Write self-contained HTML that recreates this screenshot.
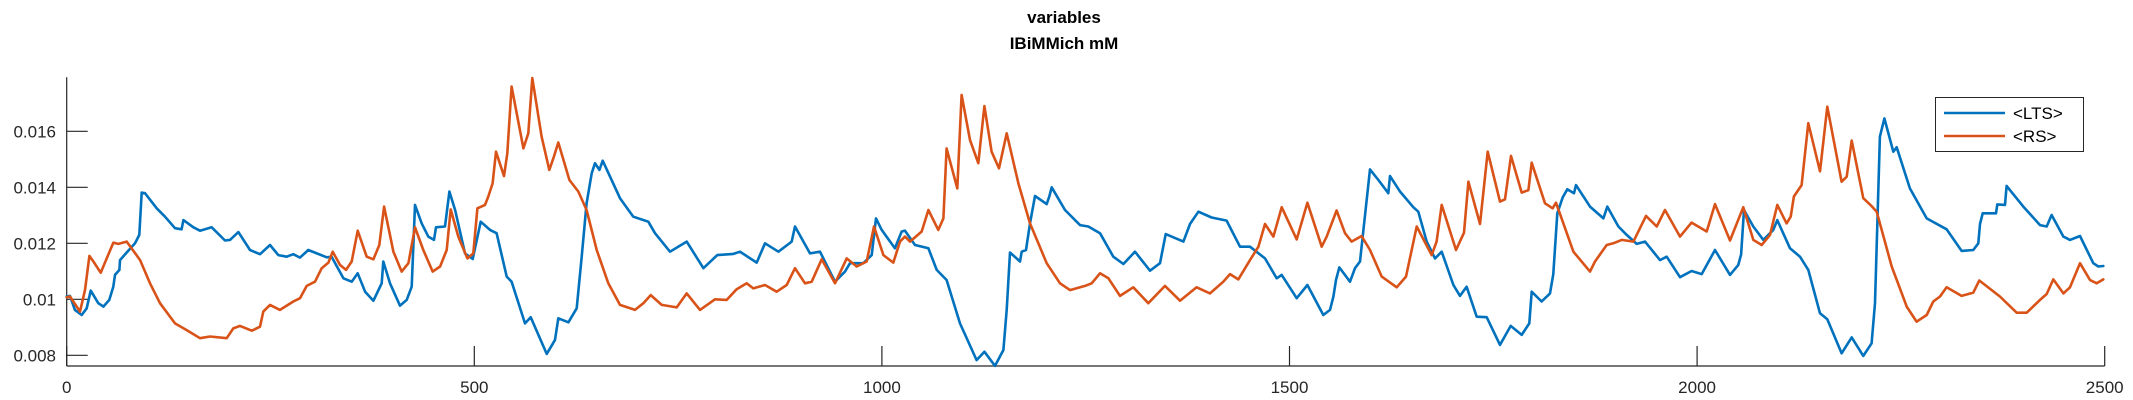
<!DOCTYPE html>
<html><head><meta charset="utf-8"><title>variables IBiMMich mM</title>
<style>
html,body{margin:0;padding:0;background:#fff;}
svg{display:block;font-family:"Liberation Sans","DejaVu Sans",sans-serif;}
</style></head>
<body>
<svg id="chart" width="2133" height="400" viewBox="0 0 2133 400" xmlns="http://www.w3.org/2000/svg">
<text x="1064" y="23" text-anchor="middle" font-size="17" font-weight="bold" fill="#000">variables</text>
<text x="1064" y="49" text-anchor="middle" font-size="17" font-weight="bold" fill="#000">IBiMMich mM</text>
<g id="axes"></g>
<g id="series"></g>
<g id="legend">
<rect x="1935.5" y="97.5" width="148" height="54" fill="#fff" stroke="#262626" stroke-width="1"/>
<line x1="1944" y1="113" x2="2005" y2="113" stroke="#0072BD" stroke-width="2.6"/>
<text x="2013" y="119" font-size="17" fill="#000">&lt;LTS&gt;</text>
<line x1="1944" y1="136" x2="2005" y2="136" stroke="#D95319" stroke-width="2.6"/>
<text x="2013" y="142" font-size="17" fill="#000">&lt;RS&gt;</text>
</g>
</svg>
<script>
const xTicks = [0, 500, 1000, 1500, 2000, 2500];
const xTickLabels = ["0", "500", "1000", "1500", "2000", "2500"];
const yTicks = [0.008, 0.010, 0.012, 0.014, 0.016];
const yTickLabels = ["0.008", "0.01", "0.012", "0.014", "0.016"];
const xDomain = [0, 2500];
const yDomain = [0.007618, 0.017929];

const ltsT = [0,4,10,18.4,24.5,29.4,38.8,45,52.3,57.2,59.3,64.6,65.4,73.6,83.8,89.1,92,96,110.4,120.6,132.9,141,143.1,155.4,163.5,177.9,194.2,200.3,210.6,224.9,237.1,249.4,259.6,269.9,278,286.2,296.4,319,325,339.4,349.6,357,366,376.2,386.4,388.4,396.6,408.9,417.1,423.2,427.3,435.5,443.6,450.6,453,464.1,469.4,476.4,488.6,498,507.8,519.3,527.4,539.7,545.8,562.2,569.2,588.8,599,603,615.4,625.6,631.7,637.8,644,648.1,653.4,657.5,678.7,695.1,713.5,721.7,740.1,760.5,781,798.1,817.8,825.9,846.4,856.6,873,889.3,893.4,911.8,924.1,942.5,954.7,960.9,977.2,987.5,992.8,999.7,1016,1024.3,1028.3,1040.6,1057,1067.2,1079.4,1095.8,1116.2,1125.7,1138.7,1149,1153.1,1157.1,1169.4,1171.5,1176.8,1181.7,1187.8,1202.1,1205.4,1208.3,1224.6,1243,1253.2,1267.5,1283.9,1296.2,1310.5,1328.9,1341.1,1348.1,1369.8,1378,1388.2,1404.5,1422.9,1439.3,1451.5,1470,1484.3,1490.4,1508.8,1521.9,1541.5,1549.7,1553.8,1557,1561.1,1574.2,1580.3,1586.5,1598.7,1609,1621.2,1623.3,1635.5,1651.9,1658,1668.3,1678.5,1686.7,1701,1709.1,1717.3,1729.6,1741.9,1758.2,1771.3,1784.8,1794.2,1797.1,1809.3,1819.5,1823.6,1828.5,1835.1,1840.8,1849,1851.4,1868.6,1885,1889.9,1903.4,1913.6,1925.9,1936.1,1954.5,1962.7,1979,1993.3,2005.6,2022,2040.4,2050.6,2054,2057.5,2069,2081.2,2093.5,2098.4,2113.9,2126.2,2136.4,2150.7,2159.7,2177.3,2189.6,2203.9,2214.1,2218.2,2224.3,2229.7,2240.7,2244.8,2261.1,2281.6,2306.1,2324.5,2338.8,2345,2347,2350.3,2366.6,2368.3,2377.7,2379.7,2400.2,2420.6,2428.8,2434.9,2449.3,2457.4,2469.7,2486,2492.2,2498.3];
const ltsV = [10.10,10.12,9.62,9.44,9.68,10.31,9.86,9.74,9.98,10.45,10.87,11.05,11.40,11.67,12.0,12.30,13.81,13.79,13.25,12.95,12.54,12.5,12.83,12.57,12.45,12.57,12.10,12.12,12.40,11.76,11.61,11.94,11.58,11.52,11.61,11.49,11.76,11.5,11.52,10.75,10.63,10.93,10.27,9.95,10.57,11.35,10.57,9.77,9.98,10.45,13.37,12.71,12.24,12.12,12.57,12.6,13.85,13.19,11.64,11.44,12.77,12.48,12.36,10.81,10.63,9.14,9.36,8.05,8.55,9.32,9.18,9.68,11.52,13.43,14.5,14.86,14.62,14.95,13.61,12.95,12.77,12.36,11.70,12.06,11.11,11.58,11.62,11.70,11.31,12.0,11.70,12.06,12.60,11.64,11.70,10.63,10.99,11.29,11.29,11.58,12.89,12.48,11.82,12.42,12.45,11.94,11.82,11.05,10.69,9.14,7.83,8.13,7.62,8.19,9.62,11.67,11.35,11.70,11.76,12.71,13.69,13.40,13.67,14.0,13.19,12.65,12.60,12.36,11.52,11.26,11.70,11.02,11.29,12.33,12.06,12.69,13.13,12.92,12.81,11.88,11.88,11.46,10.75,10.87,10.04,10.51,9.44,9.62,10.1,10.69,11.14,10.63,11.11,11.35,14.64,14.26,13.79,14.40,13.85,13.29,13.13,12.06,11.46,11.70,10.51,10.12,10.45,9.38,9.36,8.37,9.05,8.73,9.14,10.27,9.92,10.21,10.9,13.07,13.64,13.93,13.79,14.08,13.31,12.89,13.31,12.6,12.30,11.98,12.06,11.40,11.52,10.79,11.01,10.90,11.76,10.87,11.23,11.6,13.19,12.6,12.12,12.48,12.83,11.82,11.52,11.05,9.5,9.29,8.07,8.64,7.98,8.43,9.86,15.81,16.46,15.27,15.43,13.96,12.89,12.5,11.73,11.76,12.0,12.69,13.07,13.07,13.39,13.37,14.05,13.31,12.65,12.6,13.01,12.24,12.12,12.26,11.29,11.17,11.19];

const rsT = [0,4,16.3,22.5,27.8,32.7,41.7,48.2,57.2,63.4,73.6,90,102.2,114.5,132.9,147.2,163.5,175.8,196.3,204.4,212.6,227,237.1,241.2,249.4,261.7,278,286.2,294.4,304.6,312.8,321,326.3,335.3,342.6,349.6,357,368,376.2,383.5,389.3,400.7,410.9,419.1,427.3,437.5,449,458,466.1,471,480.4,491.5,498.8,503.8,513.1,517.2,522.5,526.6,536.4,540.5,545.8,560.2,566.3,571.2,582.6,592,597,603.1,616.6,627.6,637.8,650.1,664.4,678.7,697.1,707.4,716.4,729.9,748.3,760.5,776.9,795.3,809.6,821.9,834.1,842.3,856.6,870.9,883.2,893.4,905.7,913.9,926.1,942.5,956.8,969.1,981.3,990.3,1001.8,1014,1022.2,1028.3,1034.5,1048.8,1057,1069.2,1075.4,1079.4,1092.5,1097.8,1108.1,1118.3,1125.7,1134.6,1143.6,1153.1,1167.4,1181.7,1202.1,1218.5,1230.7,1249.1,1257.3,1267.5,1277.8,1292.1,1308.4,1326.8,1347.3,1365.7,1386.1,1402.5,1418.8,1427,1437.2,1451.5,1461.8,1470,1480.2,1490.4,1508.8,1521.9,1539.5,1545.6,1557.8,1568.1,1576.2,1588.5,1598.7,1613.1,1631.5,1642.9,1656,1674.4,1680.5,1686.7,1704.2,1714,1719.4,1733.7,1743.1,1758.2,1764.3,1771.7,1784.8,1793,1797.1,1813.4,1822.8,1826.9,1848.2,1868.6,1874.7,1889.1,1897.2,1907.5,1921.8,1937.3,1950.4,1960.6,1979,1993.3,2011.8,2022,2040.4,2056.7,2069,2079.2,2089.4,2098.4,2109.8,2114.8,2118.8,2128.2,2136.4,2150.7,2159.7,2177.3,2183.5,2189.6,2203.9,2214.1,2220.3,2238.7,2257.1,2269.3,2281.6,2289.8,2298,2306.1,2324.5,2338.8,2346.2,2371.5,2392,2404.3,2420.6,2428.8,2437,2449.3,2457.4,2469.7,2482,2490.2,2498.3];
const rsV = [10.07,10.1,9.56,10.33,11.55,11.35,10.95,11.40,12.02,11.98,12.06,11.40,10.57,9.86,9.14,8.90,8.61,8.67,8.61,8.96,9.05,8.88,9.02,9.56,9.80,9.62,9.92,10.04,10.48,10.63,11.11,11.31,11.70,11.23,11.05,11.35,12.45,11.52,11.43,11.94,13.31,11.70,10.99,11.29,12.57,11.76,10.99,11.17,11.76,13.21,12.24,11.46,11.64,13.25,13.37,13.67,14.14,15.27,14.40,15.21,17.60,15.39,15.93,17.9,15.81,14.62,15.04,15.60,14.26,13.85,13.19,11.76,10.57,9.80,9.62,9.86,10.15,9.80,9.71,10.21,9.62,10.0,9.98,10.36,10.57,10.39,10.51,10.27,10.51,11.11,10.57,10.63,11.43,10.57,11.46,11.17,11.35,12.60,11.58,11.31,12.06,12.24,12.06,12.42,13.19,12.48,12.89,15.39,13.96,17.30,15.69,14.86,16.90,15.27,14.68,15.93,14.14,12.71,11.29,10.57,10.33,10.48,10.57,10.93,10.75,10.12,10.43,9.86,10.48,9.95,10.43,10.21,10.63,10.90,10.71,11.40,11.88,12.69,12.24,13.29,12.14,13.45,11.88,12.24,13.17,12.36,12.06,12.26,11.76,10.81,10.43,10.81,12.60,11.58,12.06,13.37,11.76,12.38,14.20,12.69,15.27,13.49,13.57,15.12,13.81,13.90,14.88,13.43,13.25,13.45,11.70,10.99,11.35,11.94,12.0,12.12,12.06,12.98,12.60,13.19,12.24,12.74,12.42,13.40,12.10,13.29,12.12,11.94,12.30,13.37,12.71,12.95,13.67,14.08,16.29,14.57,16.88,14.20,14.38,15.67,13.61,13.33,13.13,11.17,9.74,9.20,9.44,9.92,10.10,10.43,10.12,10.24,10.67,10.10,9.52,9.52,9.98,10.19,10.71,10.21,10.43,11.29,10.69,10.57,10.71];

const NS = "http://www.w3.org/2000/svg";
const plotL = 66.7, plotR = 2104.7, plotT = 77.3, plotB = 366;
function xScale(t){ return plotL + (t - xDomain[0]) / (xDomain[1] - xDomain[0]) * (plotR - plotL); }
function yScale(v){ return plotB - (v - yDomain[0]) / (yDomain[1] - yDomain[0]) * (plotB - plotT); }
function mk(tag, attrs){ const e = document.createElementNS(NS, tag); for (const k in attrs) e.setAttribute(k, attrs[k]); return e; }

const axes = document.getElementById('axes');
const yAxis = mk('line', {x1: plotL, y1: plotT, x2: plotL, y2: plotB, stroke: '#262626', 'stroke-width': 1.2});


axes.appendChild(yAxis);
const xAxis = mk('line', {x1: plotL, y1: plotB, x2: plotR, y2: plotB, stroke: '#262626', 'stroke-width': 1.2});


axes.appendChild(xAxis);

yTicks.forEach((v, i) => {
  const y = yScale(v);
  const tk = mk('line', {x1: plotL, y1: y, x2: plotL + 21, y2: y, stroke: '#262626', 'stroke-width': 1.2});
  
  
  axes.appendChild(tk);
  const lb = mk('text', {x: 56, y: y + 6, 'text-anchor': 'end', 'font-size': 17, fill: '#262626'});
  lb.textContent = yTickLabels[i];
  
  
  axes.appendChild(lb);
});
xTicks.forEach((t, i) => {
  const x = xScale(t);
  const tk = mk('line', {x1: x, y1: plotB, x2: x, y2: plotB - 20, stroke: '#262626', 'stroke-width': 1.2});
  
  
  axes.appendChild(tk);
  const lb = mk('text', {x: x, y: 393, 'text-anchor': 'middle', 'font-size': 17, fill: '#262626'});
  lb.textContent = xTickLabels[i];
  
  
  axes.appendChild(lb);
});

function drawSeries(ts, vs, color, name){
  let d = '';
  for (let i = 0; i < ts.length; i++) {
    d += (i ? 'L' : 'M') + xScale(ts[i]).toFixed(1) + ',' + yScale(vs[i] / 1000).toFixed(1);
  }
  const p = mk('path', {d: d, fill: 'none', stroke: color, 'stroke-width': 2.6, 'stroke-linejoin': 'round', 'stroke-linecap': 'round'});
  
  
  document.getElementById('series').appendChild(p);
}
drawSeries(ltsT, ltsV, '#0072BD', 'lts-line');
drawSeries(rsT, rsV, '#D95319', 'rs-line');
</script>
</body></html>
